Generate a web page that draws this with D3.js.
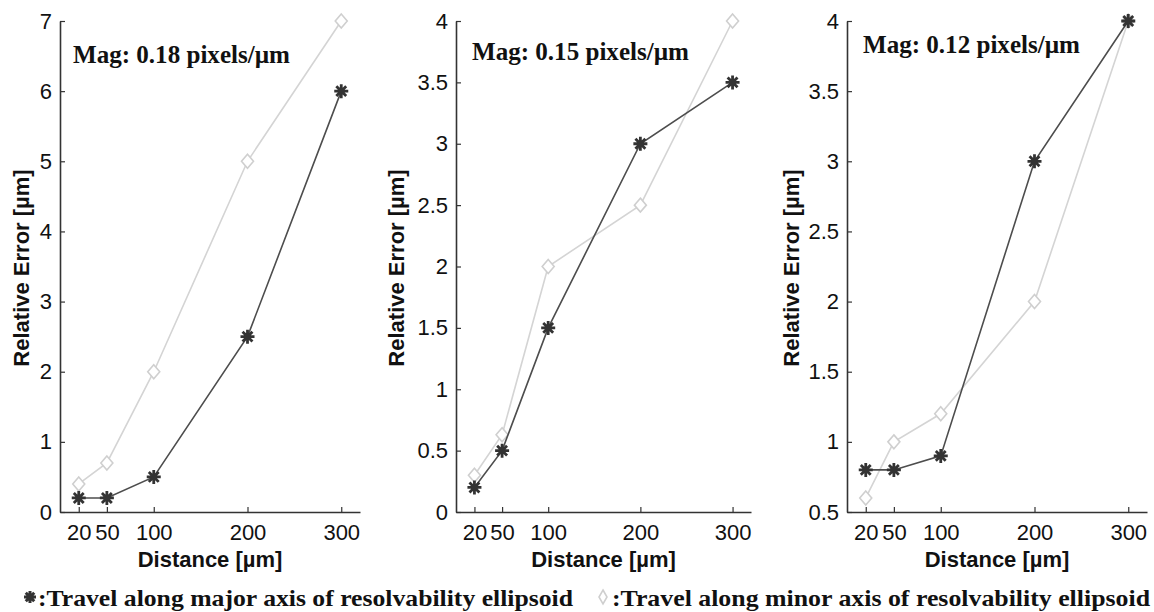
<!DOCTYPE html>
<html>
<head>
<meta charset="utf-8">
<script src="https://cdn.jsdelivr.net/npm/d3@7"></script>
<style>
  body { margin: 0; background: #fff; }
  text { fill: #111; }
</style>
</head>
<body>
<div id="chart"></div>
<script>
// data
let distances = [20, 50, 100, 200, 300]

let majorP1 = [0.2, 0.2, 0.5, 2.5, 6]
let minorP1 = [0.4, 0.7, 2, 5, 7]
let majorP2 = [0.2, 0.5, 1.5, 3, 3.5]
let minorP2 = [0.3, 0.63, 2, 2.5, 4]
let majorP3 = [0.8, 0.8, 0.9, 3, 4]
let minorP3 = [0.6, 1.0, 1.2, 2, 4]

let yTicksP1 = [0, 1, 2, 3, 4, 5, 6, 7]
let yTicksP2 = [0, 0.5, 1, 1.5, 2, 2.5, 3, 3.5, 4]
let yTicksP3 = [0.5, 1, 1.5, 2, 2.5, 3, 3.5, 4]

let magLabels = ["Mag: 0.18 pixels/\u00b5m", "Mag: 0.15 pixels/\u00b5m", "Mag: 0.12 pixels/\u00b5m"]
let xLabel = "Distance [\u00b5m]"
let yLabel = "Relative Error [\u00b5m]"
let legendMajor = ":Travel along major axis of resolvability ellipsoid"
let legendMinor = ":Travel along minor axis of resolvability ellipsoid"

let width = 1154, height = 612

let svg = d3.select("#chart")
    .append("svg")
    .attr("width", width)
    .attr("height", height)

svg.append("rect").attr("width", width).attr("height", height).attr("fill", "#fff")

let panels = [
    { major: majorP1, minor: minorP1, ticks: yTicksP1, mag: magLabels[0], x0: 60, x1: 360, magX: 73, magY: 63, yLabX: 29 },
    { major: majorP2, minor: minorP2, ticks: yTicksP2, mag: magLabels[1], x0: 456, x1: 751, magX: 472, magY: 60, yLabX: 404 },
    { major: majorP3, minor: minorP3, ticks: yTicksP3, mag: magLabels[2], x0: 847, x1: 1147, magX: 863, magY: 53, yLabX: 799 }
]

let yTop = 21, yBottom = 512
let darkLine = "#4d4d4d", darkMark = "#333", lightLine = "#d4d4d4"

function asteriskPath(r) {
    let p = ""
    for (let i = 0; i < 4; i++) {
        let a = i * Math.PI / 4
        let dx = r * Math.cos(a), dy = r * Math.sin(a)
        p += "M" + (-dx) + "," + (-dy) + "L" + dx + "," + dy
    }
    return p
}

function diamondPath(w, h) {
    return "M0," + (-h) + "L" + w + ",0L0," + h + "L" + (-w) + ",0Z"
}

panels.forEach(panel => {
    let x = d3.scaleLinear().domain([0, 320]).range([panel.x0, panel.x1])
    let y = d3.scaleLinear()
        .domain([panel.ticks[0], panel.ticks[panel.ticks.length - 1]])
        .range([yBottom, yTop])

    let g = svg.append("g")

    let xAxis = g.append("g")
        .attr("transform", "translate(0," + yBottom + ")")
        .call(d3.axisBottom(x).tickValues(distances).tickSize(-5).tickSizeOuter(0).tickPadding(12))
    let yAxis = g.append("g")
        .attr("transform", "translate(" + panel.x0 + ",0)")
        .call(d3.axisLeft(y).tickValues(panel.ticks).tickFormat(d3.format("")).tickSize(-5).tickSizeOuter(0).tickPadding(8))

    ;[xAxis, yAxis].forEach(a => {
        a.select(".domain").attr("stroke", "#333").attr("stroke-width", 1.6)
        a.selectAll(".tick line").attr("stroke", "#333").attr("stroke-width", 1.2)
        a.selectAll(".tick text")
            .style("font-family", "Arial, 'Liberation Sans', sans-serif")
            .style("font-size", "22px")
            .attr("fill", "#222")
    })

    let line = d3.line()
        .x((d, i) => x(distances[i]))
        .y(d => y(d))

    g.append("path")
        .datum(panel.minor)
        .attr("d", line)
        .attr("fill", "none")
        .attr("stroke", lightLine)
        .attr("stroke-width", 1.6)

    g.selectAll(".diamond")
        .data(panel.minor)
        .enter()
        .append("path")
        .attr("class", "diamond")
        .attr("d", diamondPath(6, 7))
        .attr("transform", (d, i) => "translate(" + x(distances[i]) + "," + y(d) + ")")
        .attr("fill", "#fff")
        .attr("stroke", "#cfcfcf")
        .attr("stroke-width", 1.6)

    g.append("path")
        .datum(panel.major)
        .attr("d", line)
        .attr("fill", "none")
        .attr("stroke", darkLine)
        .attr("stroke-width", 1.6)

    g.selectAll(".star")
        .data(panel.major)
        .enter()
        .append("path")
        .attr("class", "star")
        .attr("d", asteriskPath(7))
        .attr("transform", (d, i) => "translate(" + x(distances[i]) + "," + y(d) + ")")
        .attr("stroke", darkMark)
        .attr("stroke-width", 2.8)

    g.append("text")
        .attr("x", panel.magX)
        .attr("y", panel.magY)
        .attr("textLength", 217)
        .attr("lengthAdjust", "spacingAndGlyphs")
        .style("font-family", "'Liberation Serif', 'DejaVu Serif', serif")
        .style("font-weight", "bold")
        .style("font-size", "25px")
        .text(panel.mag)

    g.append("text")
        .attr("x", (panel.x0 + panel.x1) / 2)
        .attr("y", 567)
        .attr("text-anchor", "middle")
        .style("font-family", "Arial, 'Liberation Sans', sans-serif")
        .style("font-weight", "bold")
        .style("font-size", "22px")
        .text(xLabel)

    g.append("text")
        .attr("transform", "translate(" + panel.yLabX + ",268) rotate(-90)")
        .attr("text-anchor", "middle")
        .style("font-family", "Arial, 'Liberation Sans', sans-serif")
        .style("font-weight", "bold")
        .style("font-size", "22px")
        .text(yLabel)
})

// legend
let legend = svg.append("g")

legend.append("path")
    .attr("d", asteriskPath(6))
    .attr("transform", "translate(30,597)")
    .attr("stroke", darkMark)
    .attr("stroke-width", 3)

legend.append("text")
    .attr("x", 38)
    .attr("y", 606)
    .attr("textLength", 535)
    .attr("lengthAdjust", "spacingAndGlyphs")
    .style("font-family", "'Liberation Serif', 'DejaVu Serif', serif")
    .style("font-weight", "bold")
    .style("font-size", "24px")
    .text(legendMajor)

legend.append("path")
    .attr("d", diamondPath(4, 7))
    .attr("transform", "translate(603,597)")
    .attr("fill", "#fff")
    .attr("stroke", "#cfcfcf")
    .attr("stroke-width", 1.6)

legend.append("text")
    .attr("x", 612)
    .attr("y", 606)
    .attr("textLength", 538)
    .attr("lengthAdjust", "spacingAndGlyphs")
    .style("font-family", "'Liberation Serif', 'DejaVu Serif', serif")
    .style("font-weight", "bold")
    .style("font-size", "24px")
    .text(legendMinor)
</script>
</body>
</html>
